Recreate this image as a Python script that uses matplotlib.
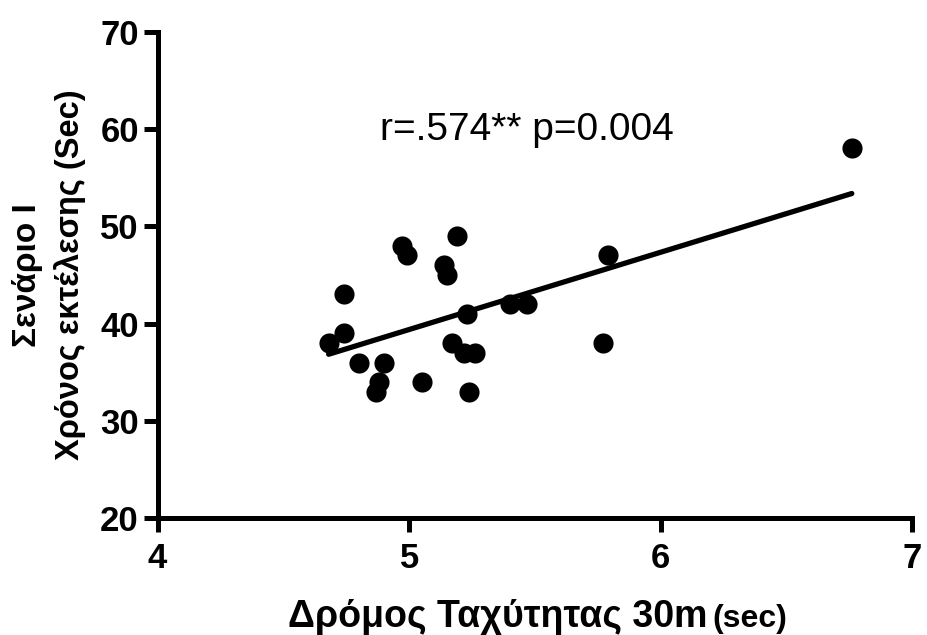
import numpy as np
import matplotlib
matplotlib.use("Agg")
import matplotlib.pyplot as plt

plt.rcParams['font.family'] = ['Liberation Sans', 'DejaVu Sans']

# sprint 30m time (sec) vs execution time scenario I (sec)
sprint = [6.76, 5.79, 5.77, 4.97, 4.99, 5.19, 5.14, 5.15, 4.74, 5.23, 5.40, 5.47,
          4.74, 4.68, 5.17, 5.22, 5.26, 4.80, 4.90, 4.88, 4.87, 5.05, 5.24]
exec_time = [58, 47, 38, 48, 47, 49, 46, 45, 43, 41, 42, 42,
             39, 38, 38, 37, 37, 36, 36, 34, 33, 34, 33]

x_ticks = [4, 5, 6, 7]
y_ticks = [20, 30, 40, 50, 60, 70]

fig = plt.figure(figsize=(9.27, 6.35), dpi=100)
ax = fig.add_axes([0.170, 0.184, 0.814, 0.766])

x = np.array(sprint)
y = np.array(exec_time)
ax.scatter(x, y, s=210, color="black", zorder=3, linewidths=0)

# linear fit over data range
slope, intercept = np.polyfit(x, y, 1)
xs = np.array([x.min(), x.max()])
ax.plot(xs, slope * xs + intercept, color="black", lw=3.8, solid_capstyle="round", zorder=2)

ax.text(5.47, 58.9, "r=.574** p=0.004", fontsize=28, ha="center", va="baseline")

ax.set_xlim(4, 7)
ax.set_ylim(20, 70)
ax.set_xticks(x_ticks)
ax.set_yticks(y_ticks)
ax.tick_params(direction="out", length=10, width=3.6, labelsize=25)
ax.tick_params(axis="x", pad=7)
ax.tick_params(axis="y", pad=3.5)
for lab in ax.get_xticklabels() + ax.get_yticklabels():
    lab.set_fontweight("bold")

for side in ["top", "right"]:
    ax.spines[side].set_visible(False)
for side in ["left", "bottom"]:
    ax.spines[side].set_linewidth(3.6)

fig.text(288 / 927, 0.0126, "Δρόμος Ταχύτητας 30m", fontsize=27, fontweight="bold",
         ha="left", va="baseline")
fig.text(712 / 927, 0.0126, "(sec)", fontsize=23, fontweight="bold",
         ha="left", va="baseline")

fig.text(0.030, 0.567, "Σενάριο Ι", fontsize=24, fontweight="bold", rotation=90,
         ha="center", va="center")
fig.text(0.0755, 0.567, "Χρόνος εκτέλεσης (Sec)", fontsize=23.5, fontweight="bold",
         rotation=90, ha="center", va="center")

fig.savefig("out.png", dpi=100)
